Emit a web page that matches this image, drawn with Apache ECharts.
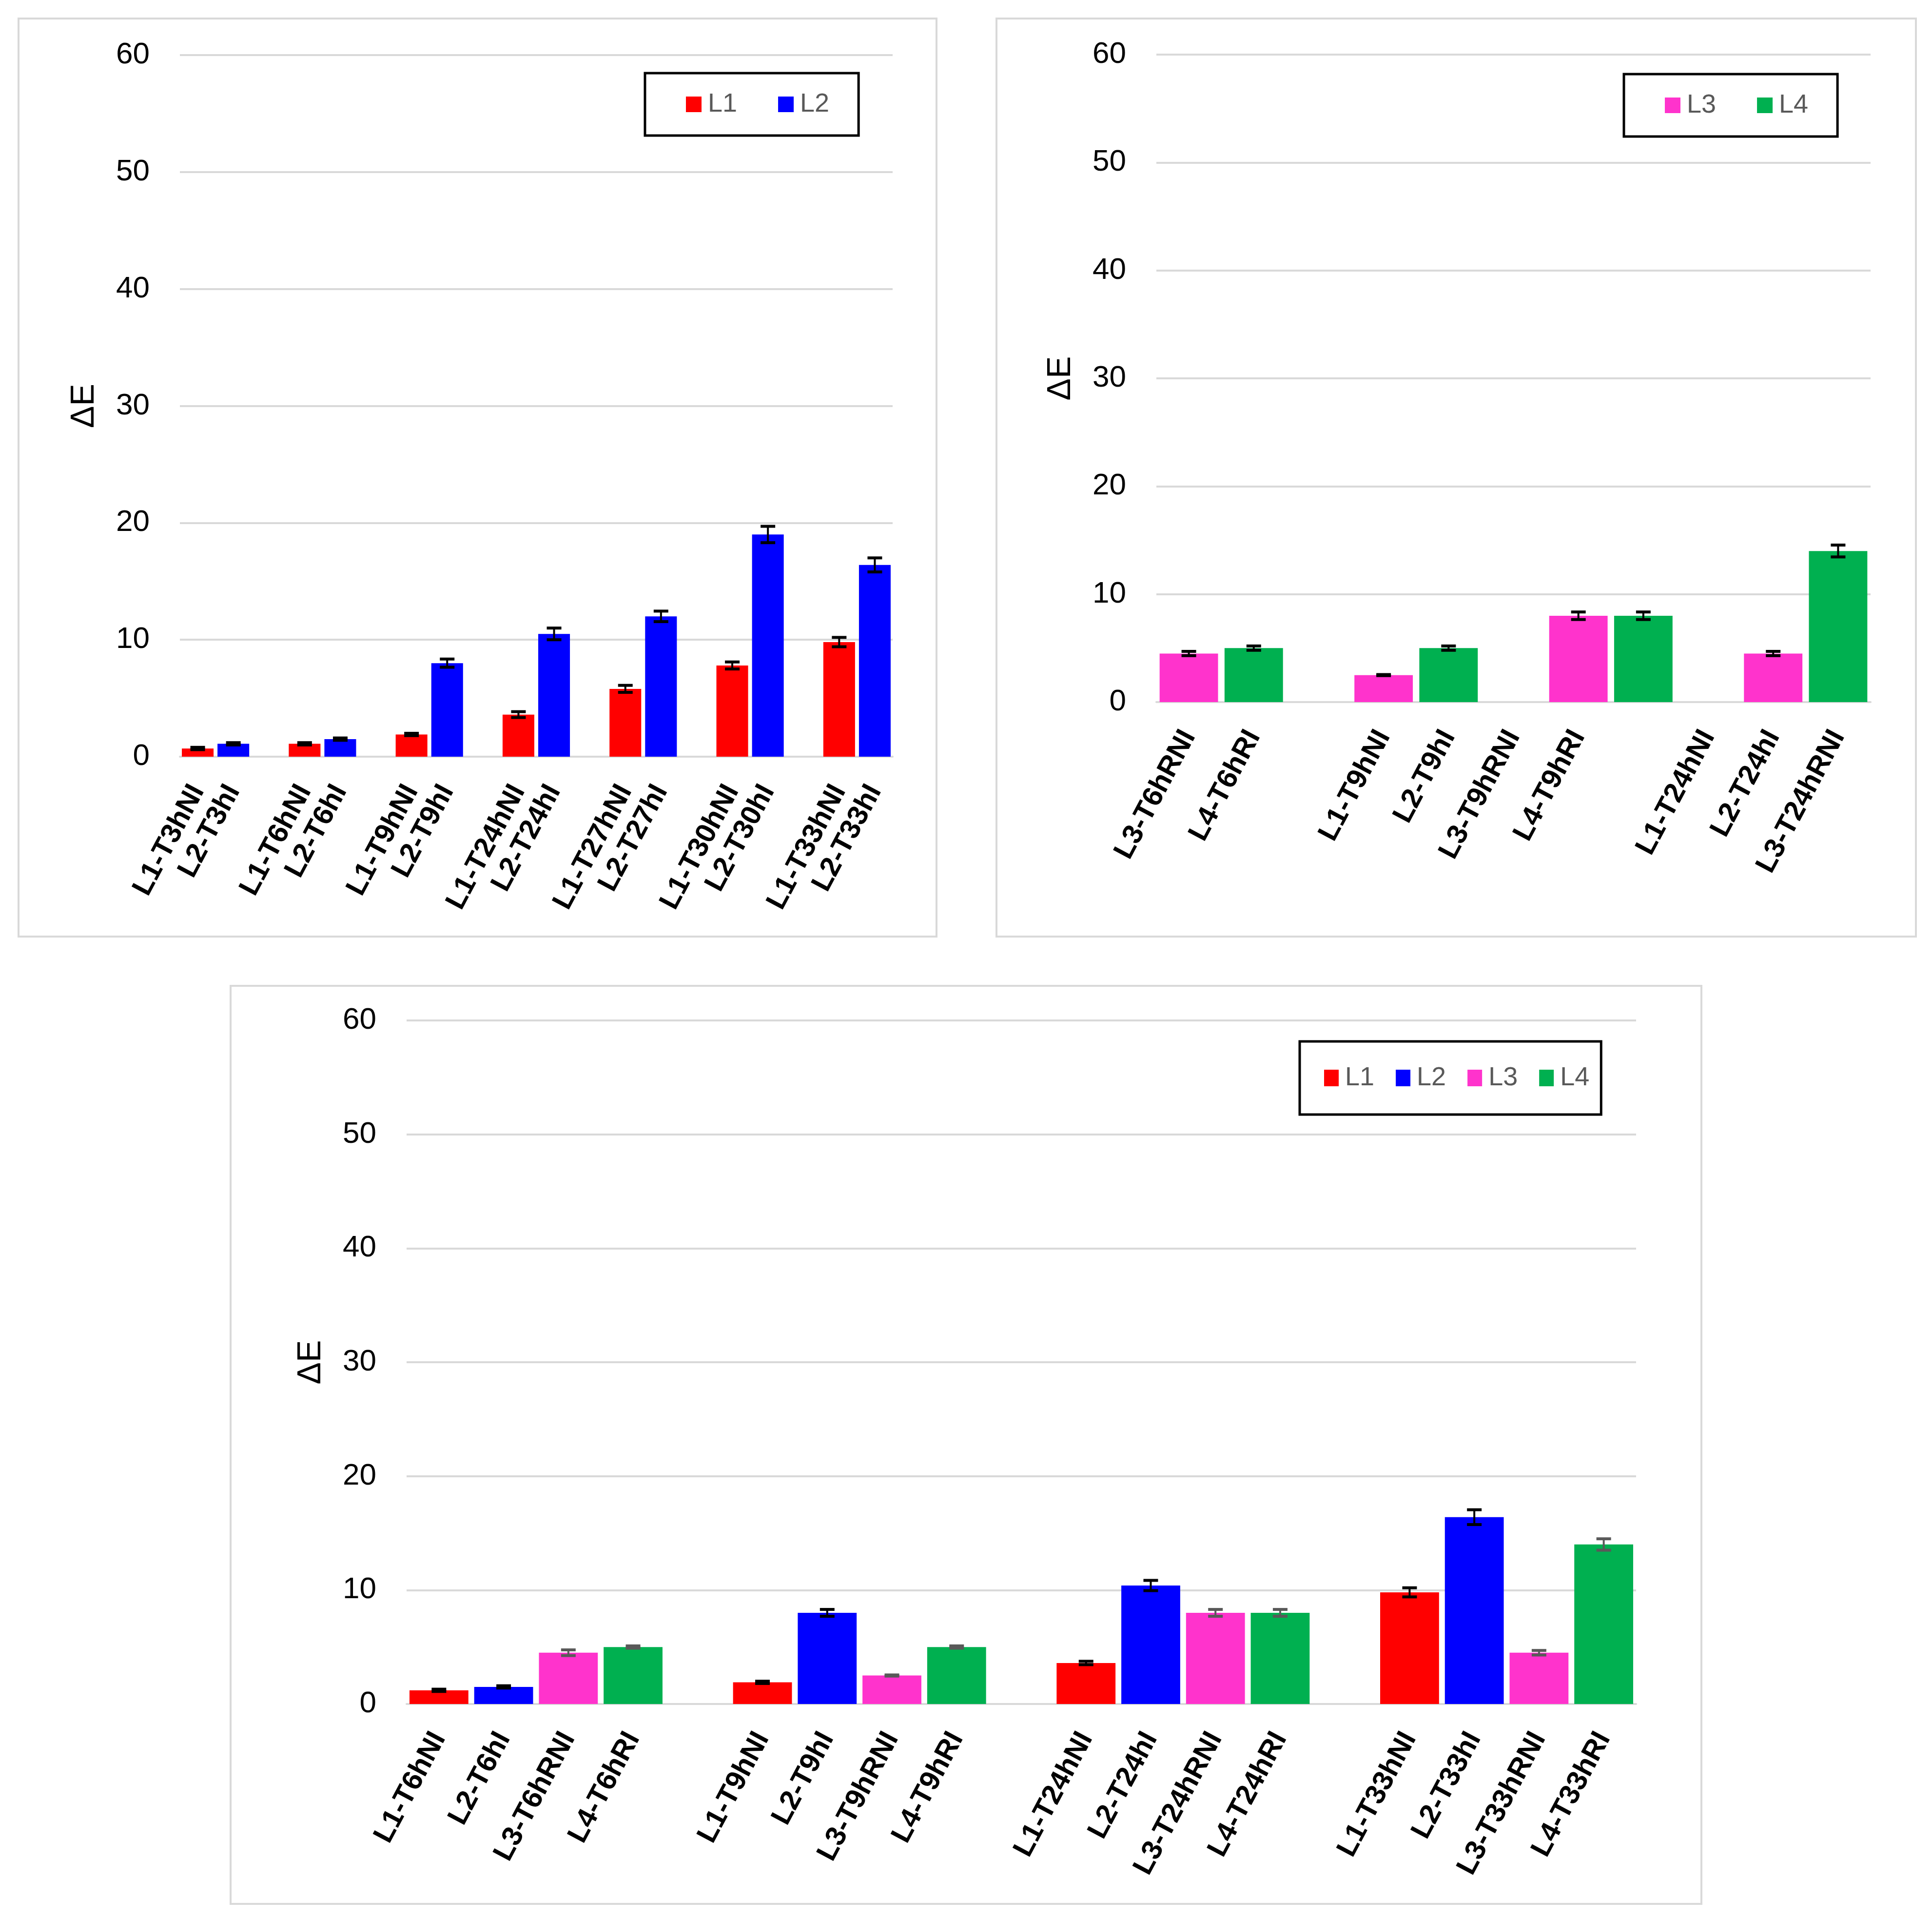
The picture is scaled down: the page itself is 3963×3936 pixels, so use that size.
<!DOCTYPE html>
<html>
<head>
<meta charset="utf-8">
<title>ΔE</title>
<script src="https://cdn.jsdelivr.net/npm/echarts@6/dist/echarts.min.js"></script>
<style>
    html, body { margin: 0; padding: 0; background: #fff; }
    #chart { width: 3963px; height: 3936px; }
</style>
</head>
<body>
<div id="chart"></div>
<script>
    // top left panel: L1 / L2
    var catsA = ['L1-T3hNI', 'L2-T3hI', '', 'L1-T6hNI', 'L2-T6hI', '', 'L1-T9hNI', 'L2-T9hI', '',
        'L1-T24hNI', 'L2-T24hI', '', 'L1-T27hNI', 'L2-T27hI', '', 'L1-T30hNI', 'L2-T30hI', '',
        'L1-T33hNI', 'L2-T33hI'];
    var aL1 = [0.7, null, null, 1.1, null, null, 1.9, null, null, 3.6, null, null, 5.8, null, null, 7.8, null, null, 9.8, null];
    var aL1Err = [0.1, null, null, 0.1, null, null, 0.1, null, null, 0.25, null, null, 0.3, null, null, 0.3, null, null, 0.4, null];
    var aL2 = [null, 1.1, null, null, 1.5, null, null, 8.0, null, null, 10.5, null, null, 12.0, null, null, 19.0, null, null, 16.4];
    var aL2Err = [null, 0.1, null, null, 0.1, null, null, 0.35, null, null, 0.5, null, null, 0.45, null, null, 0.7, null, null, 0.6];

    // top right panel: L3 / L4
    var catsB = ['L3-T6hRNI', 'L4-T6hRI', '', 'L1-T9hNI', 'L2-T9hI', 'L3-T9hRNI', 'L4-T9hRI', '',
        'L1-T24hNI', 'L2-T24hI', 'L3-T24hRNI'];
    var bL3 = [4.5, null, null, 2.5, null, null, 8.0, null, null, 4.5, null];
    var bL3Err = [0.2, null, null, 0.05, null, null, 0.35, null, null, 0.2, null];
    var bL4 = [null, 5.0, null, null, 5.0, null, null, 8.0, null, null, 14.0];
    var bL4Err = [null, 0.2, null, null, 0.2, null, null, 0.35, null, null, 0.55];

    // bottom panel: all four
    var catsC = ['L1-T6hNI', 'L2-T6hI', 'L3-T6hRNI', 'L4-T6hRI', '',
        'L1-T9hNI', 'L2-T9hI', 'L3-T9hRNI', 'L4-T9hRI', '',
        'L1-T24hNI', 'L2-T24hI', 'L3-T24hRNI', 'L4-T24hRI', '',
        'L1-T33hNI', 'L2-T33hI', 'L3-T33hRNI', 'L4-T33hRI'];
    var cL1 = [1.2, null, null, null, null, 1.9, null, null, null, null, 3.6, null, null, null, null, 9.8, null, null, null];
    var cL1Err = [0.1, null, null, null, null, 0.1, null, null, null, null, 0.15, null, null, null, null, 0.4, null, null, null];
    var cL2 = [null, 1.5, null, null, null, null, 8.0, null, null, null, null, 10.4, null, null, null, null, 16.4, null, null];
    var cL2Err = [null, 0.1, null, null, null, null, 0.3, null, null, null, null, 0.45, null, null, null, null, 0.65, null, null];
    var cL3 = [null, null, 4.5, null, null, null, null, 2.5, null, null, null, null, 8.0, null, null, null, null, 4.5, null];
    var cL3Err = [null, null, 0.25, null, null, null, null, 0.05, null, null, null, null, 0.3, null, null, null, null, 0.2, null];
    var cL4 = [null, null, null, 5.0, null, null, null, null, 5.0, null, null, null, null, 8.0, null, null, null, null, 14.0];
    var cL4Err = [null, null, null, 0.1, null, null, null, null, 0.1, null, null, null, null, 0.3, null, null, null, null, 0.5];

    var yTicks = [0, 10, 20, 30, 40, 50, 60];

    var colors = {L1: '#FF0000', L2: '#0000FF', L3: '#FF33CC', L4: '#00B050'};
    var FONT = '"Liberation Sans", Arial, sans-serif';
    var GRID_GRAY = '#D9D9D9';

    function errData(vals, errs) {
        var out = [];
        for (var i = 0; i < vals.length; i++) {
            if (vals[i] != null) out.push([i, vals[i], errs[i]]);
        }
        return out;
    }

    function errRender(color) {
        return function (params, api) {
            var x = api.value(0), v = api.value(1), e = api.value(2);
            var hi = api.coord([x, v + e]);
            var lo = api.coord([x, v - e]);
            var cap = 15;
            return {
                type: 'group',
                children: [
                    {type: 'line', shape: {x1: hi[0], y1: hi[1], x2: lo[0], y2: lo[1]}, style: {stroke: color, lineWidth: 4}},
                    {type: 'line', shape: {x1: hi[0] - cap, y1: hi[1], x2: hi[0] + cap, y2: hi[1]}, style: {stroke: color, lineWidth: 6}},
                    {type: 'line', shape: {x1: lo[0] - cap, y1: lo[1], x2: lo[0] + cap, y2: lo[1]}, style: {stroke: color, lineWidth: 6}}
                ]
            };
        };
    }

    function barSeries(name, data, idx, gap) {
        return {
            name: name, type: 'bar', data: data,
            xAxisIndex: idx, yAxisIndex: idx,
            barGap: '-100%', barCategoryGap: gap,
            itemStyle: {color: colors[name]},
            z: 2
        };
    }

    function errSeries(vals, errs, idx, color) {
        return {
            type: 'custom', name: 'err', data: errData(vals, errs),
            xAxisIndex: idx, yAxisIndex: idx,
            encode: {x: 0, y: 1},
            renderItem: errRender(color),
            z: 5, silent: true
        };
    }

    function xAxisOf(cats, idx) {
        return {
            type: 'category', gridIndex: idx, data: cats,
            axisTick: {show: false},
            axisLine: {lineStyle: {color: GRID_GRAY, width: 4}},
            axisLabel: {
                interval: 0, rotate: 62, margin: 62,
                fontFamily: FONT, fontWeight: 'bold', fontSize: 58, color: '#000'
            }
        };
    }

    function yAxisOf(idx) {
        return {
            type: 'value', gridIndex: idx, min: yTicks[0], max: yTicks[yTicks.length - 1], interval: 10,
            name: 'ΔE', nameLocation: 'middle', nameGap: 162, nameRotate: 90,
            nameTextStyle: {fontFamily: FONT, fontSize: 68, color: '#000'},
            axisLine: {show: false}, axisTick: {show: false},
            axisLabel: {fontFamily: FONT, fontSize: 62, color: '#000', margin: 62},
            splitLine: {lineStyle: {color: GRID_GRAY, width: 4}}
        };
    }

    function legendOf(names, left, top, iw, ih, gap, pad, fs) {
        return {
            data: names, left: left, top: top, orient: 'horizontal',
            icon: 'rect', itemWidth: iw, itemHeight: ih, itemGap: gap,
            padding: pad, borderColor: '#000', borderWidth: 5,
            selectedMode: false,
            textStyle: {fontFamily: FONT, fontSize: fs, color: '#595959', padding: [0, 0, 0, 8]}
        };
    }

    var chart = echarts.init(document.getElementById('chart'));
    var option = {
        backgroundColor: '#fff',
        animation: false,
        graphic: [
            {type: 'rect', shape: {x: 38, y: 38, width: 1883, height: 1883}, style: {fill: 'none', stroke: GRID_GRAY, lineWidth: 4}},
            {type: 'rect', shape: {x: 2044, y: 38, width: 1886, height: 1883}, style: {fill: 'none', stroke: GRID_GRAY, lineWidth: 4}},
            {type: 'rect', shape: {x: 473, y: 2022, width: 3017, height: 1883}, style: {fill: 'none', stroke: GRID_GRAY, lineWidth: 4}}
        ],
        legend: [
            legendOf(['L1', 'L2'], 1323, 150, 32, 32, 84, [37, 60, 37, 84], 54),
            legendOf(['L3', 'L4'], 3331, 152, 32, 32, 84, [37, 60, 37, 84], 54),
            legendOf(['L1', 'L2', 'L3', 'L4'], 2666, 2136, 30, 34, 44, [48, 24, 48, 50], 54)
        ],
        grid: [
            {left: 369, top: 113, width: 1462, height: 1439},
            {left: 2372, top: 112, width: 1465, height: 1328},
            {left: 834, top: 2093, width: 2522, height: 1402}
        ],
        xAxis: [xAxisOf(catsA, 0), xAxisOf(catsB, 1), xAxisOf(catsC, 2)],
        yAxis: [yAxisOf(0), yAxisOf(1), yAxisOf(2)],
        series: [
            barSeries('L1', aL1, 0, '11%'),
            barSeries('L2', aL2, 0, '11%'),
            errSeries(aL1, aL1Err, 0, '#000'),
            errSeries(aL2, aL2Err, 0, '#000'),

            barSeries('L3', bL3, 1, '10%'),
            barSeries('L4', bL4, 1, '10%'),
            errSeries(bL3, bL3Err, 1, '#000'),
            errSeries(bL4, bL4Err, 1, '#000'),

            barSeries('L1', cL1, 2, '9%'),
            barSeries('L2', cL2, 2, '9%'),
            barSeries('L3', cL3, 2, '9%'),
            barSeries('L4', cL4, 2, '9%'),
            errSeries(cL1, cL1Err, 2, '#000'),
            errSeries(cL2, cL2Err, 2, '#000'),
            errSeries(cL3, cL3Err, 2, '#595959'),
            errSeries(cL4, cL4Err, 2, '#595959')
        ]
    };
    chart.setOption(option);
</script>
</body>
</html>
